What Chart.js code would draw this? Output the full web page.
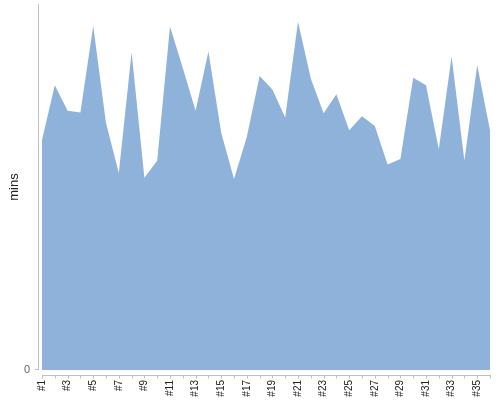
<!DOCTYPE html>
<html>
<head>
<meta charset="utf-8">
<script src="https://cdn.jsdelivr.net/npm/chart.js@4"></script>
<style>
  html, body { margin: 0; padding: 0; background: #fff; }
  #wrap { width: 500px; height: 400px; }
</style>
</head>
<body>
<div id="wrap"><canvas id="c" width="500" height="400"></canvas></div>
<script>
// ข้อมูลกราฟ: เวลาต่อรอบ (นาที)
const categories = [];
for (let i = 1; i <= 36; i++) categories.push("#" + i);

const minsValues = [
  37.7, 46.7, 42.5, 42.2, 56.4, 40.5, 32.3, 52.1, 31.5, 34.3,
  56.3, 49.5, 42.5, 52.2, 38.9, 31.3, 38.2, 48.2, 46.0, 41.4,
  57.1, 47.8, 42.1, 45.2, 39.3, 41.6, 40.0, 33.7, 34.6, 47.9,
  46.7, 36.2, 51.4, 34.3, 50.0, 39.3
];

const yTicks = [0];
const yMax = 60;

// วาดเส้นแกนเอง เพราะแกนในภาพเว้นช่องจากพื้นที่กราฟ
const axisLines = {
  id: "axisLines",
  afterDraw(chart) {
    const { ctx, chartArea, scales } = chart;
    const xs = scales.x;
    ctx.save();
    ctx.strokeStyle = "#c0c0c0";
    ctx.lineWidth = 1;
    ctx.beginPath();
    // แกน y
    ctx.moveTo(chartArea.left - 3.5, chartArea.top);
    ctx.lineTo(chartArea.left - 3.5, chartArea.bottom);
    // ขีด 0
    ctx.moveTo(chartArea.left - 7, chartArea.bottom - 0.5);
    ctx.lineTo(chartArea.left - 3.5, chartArea.bottom - 0.5);
    // แกน x
    const yb = chartArea.bottom + 5.5;
    ctx.moveTo(chartArea.left, yb);
    ctx.lineTo(chartArea.right + 1, yb);
    categories.forEach((_, i) => {
      const px = Math.round(xs.getPixelForValue(i)) + 0.5;
      ctx.moveTo(px, yb);
      ctx.lineTo(px, yb + 3);
    });
    ctx.stroke();
    ctx.restore();
  }
};

// ตัด padding อัตโนมัติของแกนออก ให้พื้นที่กราฟตรงกับภาพต้นฉบับ
function noScalePadding(scale) {
  scale.paddingLeft = 0;
  scale.paddingRight = 0;
  scale.paddingTop = 0;
  scale.paddingBottom = 0;
}

new Chart(document.getElementById("c"), {
  type: "line",
  data: {
    labels: categories,
    datasets: [{
      data: minsValues,
      fill: "origin",
      backgroundColor: "#8fb2db",
      borderWidth: 0,
      pointRadius: 0,
      tension: 0
    }]
  },
  options: {
    responsive: false,
    animation: false,
    layout: { padding: { left: 0, right: 10, top: 4, bottom: 0 } },
    plugins: { legend: { display: false }, tooltip: { enabled: false } },
    scales: {
      x: {
        offset: false,
        grid: { display: false, drawTicks: false },
        border: { display: false },
        afterFit(scale) { scale.height = 30; noScalePadding(scale); },
        ticks: {
          autoSkip: false,
          maxRotation: 90,
          minRotation: 90,
          padding: 10,
          color: "#222",
          font: { family: "Liberation Sans, Arial, sans-serif", size: 10 },
          callback(value, index) { return index % 2 === 0 ? categories[index] : ""; }
        }
      },
      y: {
        min: 0,
        max: yMax,
        grid: { display: false, drawTicks: false },
        border: { display: false },
        afterFit(scale) { scale.width = 42; noScalePadding(scale); },
        afterBuildTicks(scale) { scale.ticks = yTicks.map(v => ({ value: v })); },
        title: {
          display: true,
          text: "mins",
          color: "#222",
          padding: { top: 7, bottom: 6 },
          font: { family: "Liberation Sans, Arial, sans-serif", size: 13 }
        },
        ticks: {
          padding: 12,
          color: "#666",
          font: { family: "Liberation Sans, Arial, sans-serif", size: 11 }
        }
      }
    }
  },
  plugins: [axisLines]
});
</script>
</body>
</html>
